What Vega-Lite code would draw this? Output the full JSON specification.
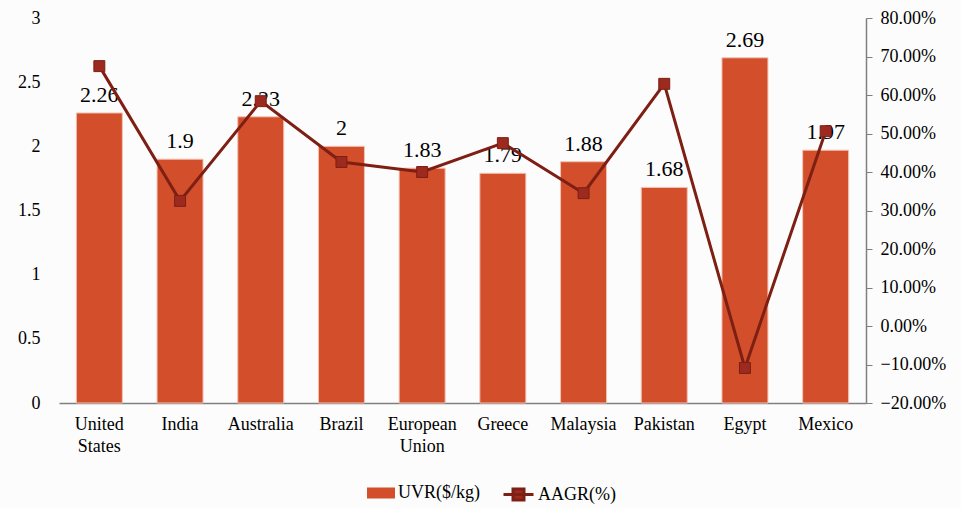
{
  "$schema": "https://vega.github.io/schema/vega-lite/v6.json",
  "autosize": {"type": "none"},
  "width": 807,
  "height": 385,
  "padding": {"left": 59, "top": 18, "right": 95, "bottom": 105},
  "background": "#fcfcfc",
  "config": {
    "font": "Liberation Serif",
    "view": {"stroke": null},
    "axis": {"labelFont": "Liberation Serif", "labelColor": "#000000", "grid": false, "title": null},
    "legend": {"labelFont": "Liberation Serif", "labelFontSize": 18, "labelColor": "#000000"}
  },
  "data": {
    "values": [
      {"country": "United States", "uvr": 2.26, "aagr": 0.675},
      {"country": "India", "uvr": 1.9, "aagr": 0.325},
      {"country": "Australia", "uvr": 2.23, "aagr": 0.584},
      {"country": "Brazil", "uvr": 2.0, "aagr": 0.426},
      {"country": "European Union", "uvr": 1.83, "aagr": 0.40},
      {"country": "Greece", "uvr": 1.79, "aagr": 0.475},
      {"country": "Malaysia", "uvr": 1.88, "aagr": 0.345},
      {"country": "Pakistan", "uvr": 1.68, "aagr": 0.629},
      {"country": "Egypt", "uvr": 2.69, "aagr": -0.109},
      {"country": "Mexico", "uvr": 1.97, "aagr": 0.506}
    ]
  },
  "encoding": {
    "x": {
      "field": "country", "type": "nominal", "sort": null,
      "scale": {"paddingInner": 0.43, "paddingOuter": 0.215},
      "axis": {
        "labelAngle": 0, "labelFontSize": 18, "labelPadding": 12, "ticks": false,
        "domainColor": "#7f7f7f", "domainWidth": 1.5,
        "labelExpr": "split(datum.label, ' ')", "labelLineHeight": 22, "labelBaseline": "top"
      }
    }
  },
  "layer": [
    {
      "encoding": {
        "y": {
          "field": "uvr", "type": "quantitative",
          "scale": {"domain": [0, 3], "nice": false},
          "axis": {"values": [0, 0.5, 1, 1.5, 2, 2.5, 3], "labelFontSize": 18, "ticks": false, "domain": false, "labelPadding": 19, "format": "~g"}
        }
      },
      "layer": [
        {
          "mark": {"type": "bar", "stroke": "#f3c3b3", "strokeWidth": 1},
          "encoding": {
            "fill": {
              "datum": "UVR($/kg)", "type": "nominal",
              "scale": {"range": ["#D34E2B"]},
              "legend": {
                "title": null, "orient": "none", "legendX": 312, "legendY": 465,
                "symbolType": "M-1.4,-0.55H1.4V0.55H-1.4Z", "symbolSize": 400,
                "symbolStrokeWidth": 0, "labelOffset": 7
              }
            }
          }
        },
        {
          "mark": {"type": "text", "dy": -18, "fontSize": 22, "font": "Liberation Serif", "color": "#000000"},
          "encoding": {
            "text": {"field": "uvr", "type": "quantitative", "format": "~g"}
          }
        }
      ]
    },
    {
      "encoding": {
        "y": {
          "field": "aagr", "type": "quantitative",
          "scale": {"domain": [-0.2, 0.8], "nice": false},
          "axis": {"orient": "right", "values": [-0.2, -0.1, 0, 0.1, 0.2, 0.3, 0.4, 0.5, 0.6, 0.7, 0.8], "format": ".2%", "labelFontSize": 18, "tickColor": "#7f7f7f", "tickSize": 6, "domainColor": "#7f7f7f", "domainWidth": 1.5, "labelPadding": 8}
        }
      },
      "layer": [
        {
          "mark": {"type": "line", "strokeWidth": 3},
          "encoding": {
            "stroke": {
              "datum": "AAGR(%)", "type": "nominal",
              "scale": {"range": ["#7E1F14"]},
              "legend": {
                "title": null, "orient": "none", "legendX": 448, "legendY": 465,
                "symbolType": "M-1.5,0H1.5M-0.55,-0.55H0.55V0.55H-0.55Z", "symbolSize": 400,
                "symbolStrokeWidth": 3, "symbolFillColor": "#9C2A1E", "labelOffset": 8
              }
            }
          }
        },
        {
          "mark": {"type": "point", "shape": "square", "filled": true, "size": 120, "fill": "#9C2A1E", "stroke": "#7E1F14", "strokeWidth": 1, "opacity": 1}
        }
      ]
    }
  ],
  "resolve": {"scale": {"y": "independent", "fill": "independent", "stroke": "independent"}}
}
